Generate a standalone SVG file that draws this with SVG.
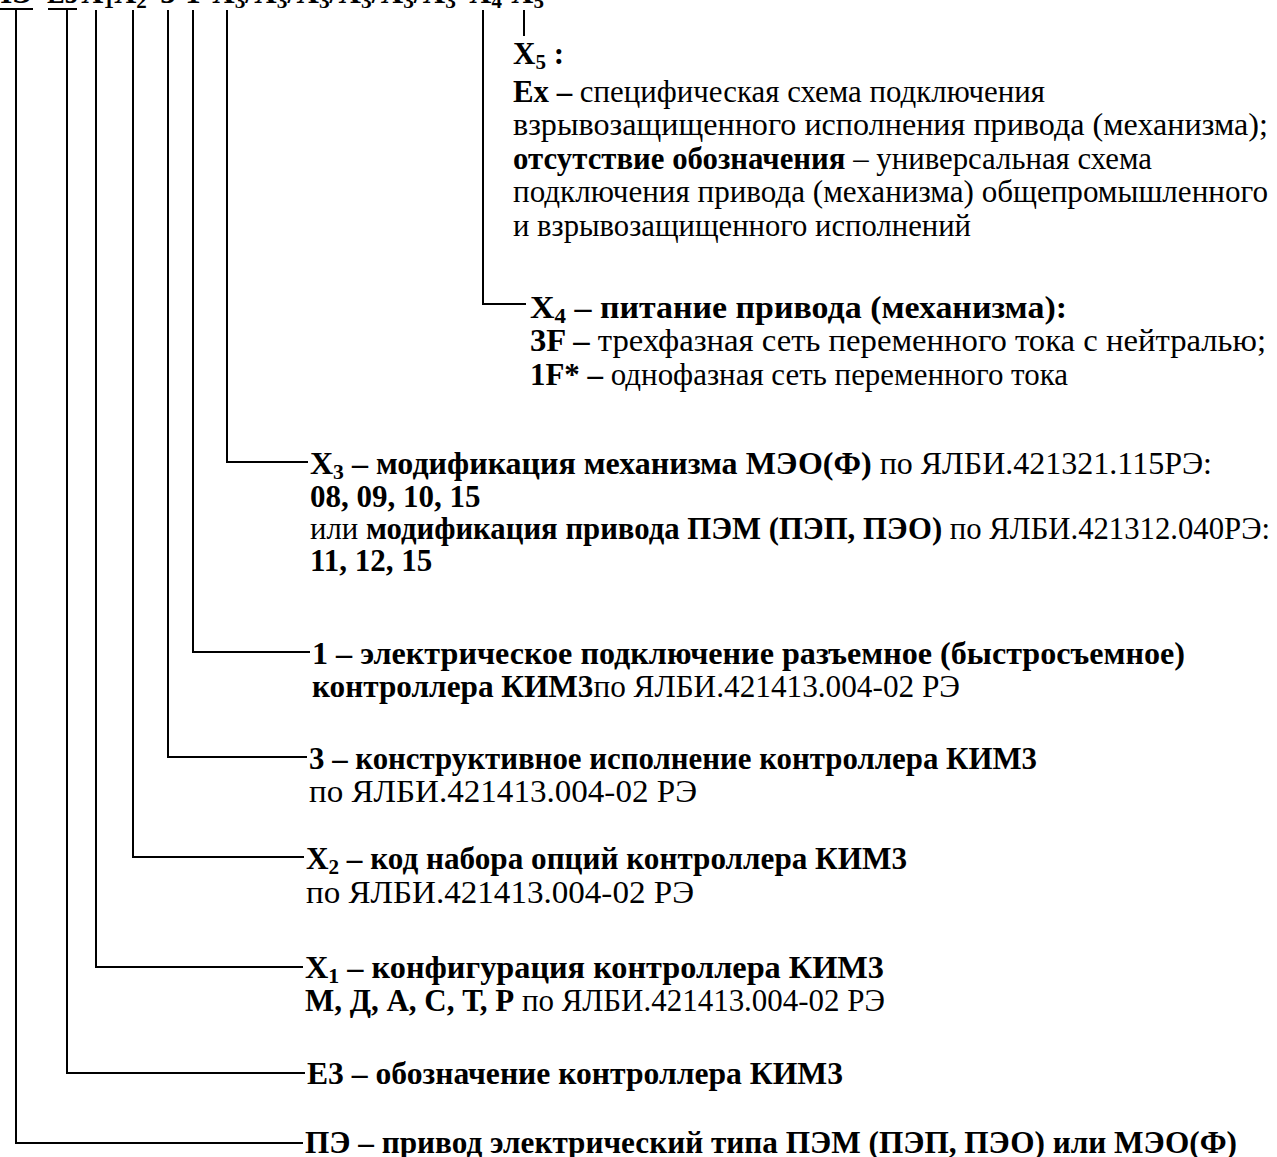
<svg xmlns="http://www.w3.org/2000/svg" width="1277" height="1157" viewBox="0 0 1277 1157">
<style>
text{font-family:"Liberation Serif","Times New Roman",serif;font-size:31px;fill:#000}
.b{font-weight:bold}
.s{font-size:21px}
.c line,.c polyline{stroke:#000;stroke-width:2;fill:none}
</style>
<rect width="1277" height="1157" fill="#fff"/>
<g id="header">
<text class="b" x="33" y="3" text-anchor="end">ПЭ</text>
<text class="b" x="47" y="3" textLength="31" lengthAdjust="spacingAndGlyphs">Е3</text>
<text class="b" x="81" y="3">Х<tspan class="s" dy="5">1</tspan><tspan dy="-5">Х</tspan><tspan class="s" dy="5">2</tspan></text>
<text class="b" x="168" y="3" text-anchor="middle">3</text>
<text class="b" x="193" y="3" text-anchor="middle">1</text>
<text class="b" x="212" y="3" textLength="244" lengthAdjust="spacingAndGlyphs">Х<tspan class="s" dy="5">3</tspan><tspan dy="-5">/Х</tspan><tspan class="s" dy="5">3</tspan><tspan dy="-5">/Х</tspan><tspan class="s" dy="5">3</tspan><tspan dy="-5">/Х</tspan><tspan class="s" dy="5">3</tspan><tspan dy="-5">/Х</tspan><tspan class="s" dy="5">3</tspan><tspan dy="-5">/Х</tspan><tspan class="s" dy="5">3</tspan></text>
<text class="b" x="469" y="3">Х<tspan class="s" dy="5">4</tspan></text>
<text class="b" x="511" y="3">Х<tspan class="s" dy="5">5</tspan></text>
</g>
<g id="connectors" class="c">
<line x1="0" y1="9" x2="33" y2="9"/>
<line x1="48" y1="9" x2="77" y2="9"/>
<polyline points="16,9 16,1143 303,1143"/>
<polyline points="67,9 67,1073 305,1073"/>
<polyline points="96,10 96,967 303,967"/>
<polyline points="133,10 133,857 304,857"/>
<polyline points="168,10 168,757 307,757"/>
<polyline points="193,10 193,652 310,652"/>
<polyline points="227,10 227,462 308,462"/>
<polyline points="483,10 483,304 526,304"/>
<line x1="524" y1="10" x2="524" y2="36"/>
</g>
<g id="node-x5">
<text class="b" x="513" y="64">X<tspan class="s" dy="5">5</tspan><tspan dy="-5"> :</tspan></text>
<text x="513" y="102" textLength="532" lengthAdjust="spacingAndGlyphs"><tspan class="b">Ex –</tspan> специфическая схема подключения</text>
<text x="513" y="135" textLength="755" lengthAdjust="spacingAndGlyphs">взрывозащищенного исполнения привода (механизма);</text>
<text x="513" y="169" textLength="639" lengthAdjust="spacingAndGlyphs"><tspan class="b">отсутствие обозначения</tspan> – универсальная схема</text>
<text x="513" y="202" textLength="755" lengthAdjust="spacingAndGlyphs">подключения привода (механизма) общепромышленного</text>
<text x="513" y="236" textLength="458" lengthAdjust="spacingAndGlyphs">и взрывозащищенного исполнений</text>
</g>
<g id="node-x4">
<text class="b" x="530" y="318" textLength="537" lengthAdjust="spacingAndGlyphs">X<tspan class="s" dy="5">4</tspan><tspan dy="-5"> – питание привода (механизма):</tspan></text>
<text x="530" y="351" textLength="736" lengthAdjust="spacingAndGlyphs"><tspan class="b">3F –</tspan> трехфазная сеть переменного тока с нейтралью;</text>
<text x="530" y="385" textLength="538" lengthAdjust="spacingAndGlyphs"><tspan class="b">1F* –</tspan> однофазная сеть переменного тока</text>
</g>
<g id="node-x3">
<text x="310" y="474" textLength="902" lengthAdjust="spacingAndGlyphs"><tspan class="b">X</tspan><tspan class="b s" dy="5">3</tspan><tspan class="b" dy="-5"> – модификация механизма МЭО(Ф)</tspan> по ЯЛБИ.421321.115РЭ:</text>
<text class="b" x="310" y="507">08, 09, 10, 15</text>
<text x="310" y="539" textLength="960" lengthAdjust="spacingAndGlyphs">или <tspan class="b">модификация привода ПЭМ (ПЭП, ПЭО)</tspan> по ЯЛБИ.421312.040РЭ:</text>
<text class="b" x="310" y="571">11, 12, 15</text>
</g>
<g id="node-1">
<text class="b" x="312" y="664" textLength="873" lengthAdjust="spacingAndGlyphs">1 – электрическое подключение разъемное (быстросъемное)</text>
<text x="312" y="697" textLength="648" lengthAdjust="spacingAndGlyphs"><tspan class="b">контроллера КИМ3</tspan>по ЯЛБИ.421413.004-02 РЭ</text>
</g>
<g id="node-3">
<text class="b" x="309" y="769" textLength="728" lengthAdjust="spacingAndGlyphs">3 – конструктивное исполнение контроллера КИМ3</text>
<text x="309" y="802" textLength="388" lengthAdjust="spacingAndGlyphs">по ЯЛБИ.421413.004-02 РЭ</text>
</g>
<g id="node-x2">
<text class="b" x="306" y="869" textLength="601" lengthAdjust="spacingAndGlyphs">X<tspan class="s" dy="5">2</tspan><tspan dy="-5"> – код набора опций контроллера КИМ3</tspan></text>
<text x="306" y="903" textLength="388" lengthAdjust="spacingAndGlyphs">по ЯЛБИ.421413.004-02 РЭ</text>
</g>
<g id="node-x1">
<text class="b" x="305" y="978" textLength="579" lengthAdjust="spacingAndGlyphs">X<tspan class="s" dy="5">1</tspan><tspan dy="-5"> – конфигурация контроллера КИМ3</tspan></text>
<text x="305" y="1011" textLength="580" lengthAdjust="spacingAndGlyphs"><tspan class="b">М, Д, А, С, Т, Р</tspan> по ЯЛБИ.421413.004-02 РЭ</text>
</g>
<g id="node-e3">
<text class="b" x="307" y="1084" textLength="536" lengthAdjust="spacingAndGlyphs">Е3 – обозначение контроллера КИМ3</text>
</g>
<g id="node-pe">
<text class="b" x="305" y="1153" textLength="932" lengthAdjust="spacingAndGlyphs">ПЭ – привод электрический типа ПЭМ (ПЭП, ПЭО) или МЭО(Ф)</text>
</g>
</svg>
